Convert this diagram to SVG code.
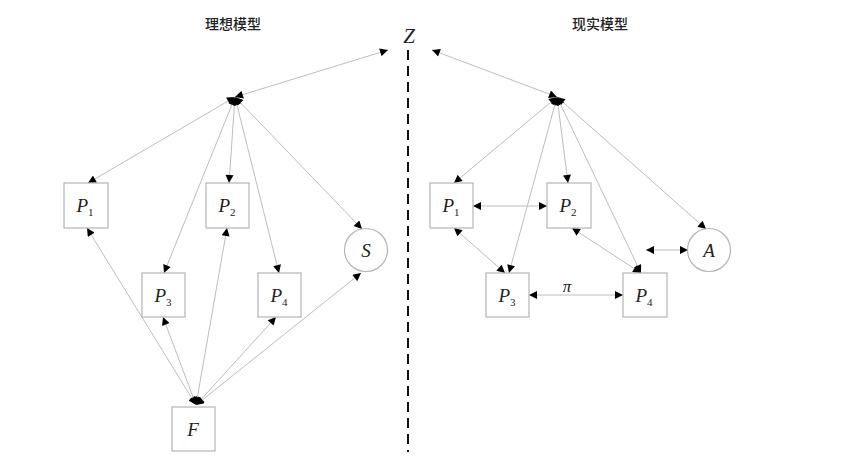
<svg xmlns="http://www.w3.org/2000/svg" width="864" height="462" viewBox="0 0 864 462">
<defs>
<marker id="ah" viewBox="0 0 10 10" refX="10" refY="5" markerWidth="9" markerHeight="8" markerUnits="userSpaceOnUse" orient="auto-start-reverse">
<path d="M0,0 L10,5 L0,10 z" fill="#000"/>
</marker>
</defs>
<style>
.box{fill:#fff;stroke:#b4b4b4;stroke-width:1.2}
.c{stroke:#bdbdbd;stroke-width:1;fill:none;marker-start:url(#ah);marker-end:url(#ah)}
.lbl{font-family:"Liberation Serif","Times New Roman",serif;font-style:italic;font-size:19px;fill:#222}
.sub{font-style:normal;font-size:11px}
.ttl{font-family:"Liberation Serif","Noto Sans CJK SC",serif;font-size:14px;fill:#222;font-weight:500}
</style>
<rect width="864" height="462" fill="#fff"/>
<text class="ttl" x="233" y="29" text-anchor="middle">理想模型</text>
<text class="ttl" x="600" y="29" text-anchor="middle">现实模型</text>
<text class="lbl" x="409" y="43" text-anchor="middle" style="font-size:21px">Z</text>
<line x1="408" y1="50" x2="408" y2="452" stroke="#111" stroke-width="2" stroke-dasharray="10,6"/>
<g id="connectors">
<line class="c" x1="235" y1="97" x2="388" y2="50"/>
<line class="c" x1="235" y1="97" x2="88" y2="183"/>
<line class="c" x1="235" y1="97" x2="229" y2="183"/>
<line class="c" x1="235" y1="97" x2="164" y2="273"/>
<line class="c" x1="235" y1="97" x2="279" y2="273"/>
<line class="c" x1="235" y1="97" x2="362" y2="229"/>
<line class="c" x1="196" y1="405" x2="87" y2="228"/>
<line class="c" x1="196" y1="405" x2="163" y2="317"/>
<line class="c" x1="196" y1="405" x2="227" y2="228"/>
<line class="c" x1="196" y1="405" x2="276" y2="317"/>
<line class="c" x1="196" y1="405" x2="361" y2="273"/>
<line class="c" x1="557" y1="97" x2="432" y2="50"/>
<line class="c" x1="557" y1="97" x2="454" y2="183"/>
<line class="c" x1="557" y1="97" x2="568" y2="183"/>
<line class="c" x1="557" y1="97" x2="706" y2="229"/>
<line class="c" x1="557" y1="97" x2="509" y2="273"/>
<line class="c" x1="557" y1="97" x2="641" y2="273"/>
<line class="c" x1="473" y1="206" x2="547" y2="206"/>
<line class="c" x1="454" y1="228" x2="505" y2="273"/>
<line class="c" x1="572" y1="228" x2="641" y2="273"/>
<line class="c" x1="529" y1="295" x2="623" y2="295"/>
<line class="c" x1="646" y1="250" x2="688" y2="250"/>
<text class="lbl" x="567" y="292" text-anchor="middle" style="font-size:17px">π</text>
</g>
<g id="L-P1"><rect class="box" x="64" y="183" width="44" height="45"/><text class="lbl" x="85" y="212" text-anchor="middle">P<tspan class="sub" dy="4">1</tspan></text></g>
<g id="L-P2"><rect class="box" x="206" y="183" width="43" height="45"/><text class="lbl" x="227" y="212" text-anchor="middle">P<tspan class="sub" dy="4">2</tspan></text></g>
<g id="L-P3"><rect class="box" x="142" y="273" width="43" height="44"/><text class="lbl" x="163" y="302" text-anchor="middle">P<tspan class="sub" dy="4">3</tspan></text></g>
<g id="L-P4"><rect class="box" x="258" y="273" width="43" height="44"/><text class="lbl" x="279" y="302" text-anchor="middle">P<tspan class="sub" dy="4">4</tspan></text></g>
<g id="L-S"><circle class="box" cx="366" cy="250" r="21.5"/><text class="lbl" x="366" y="257" text-anchor="middle">S</text></g>
<g id="L-F"><rect class="box" x="172" y="407" width="43" height="44"/><text class="lbl" x="193" y="436" text-anchor="middle">F</text></g>
<g id="R-P1"><rect class="box" x="430" y="183" width="43" height="45"/><text class="lbl" x="451" y="212" text-anchor="middle">P<tspan class="sub" dy="4">1</tspan></text></g>
<g id="R-P2"><rect class="box" x="547" y="183" width="44" height="45"/><text class="lbl" x="568" y="212" text-anchor="middle">P<tspan class="sub" dy="4">2</tspan></text></g>
<g id="R-P3"><rect class="box" x="486" y="273" width="43" height="44"/><text class="lbl" x="507" y="302" text-anchor="middle">P<tspan class="sub" dy="4">3</tspan></text></g>
<g id="R-P4"><rect class="box" x="623" y="273" width="44" height="44"/><text class="lbl" x="644" y="302" text-anchor="middle">P<tspan class="sub" dy="4">4</tspan></text></g>
<g id="R-A"><circle class="box" cx="709" cy="250" r="21.5"/><text class="lbl" x="709" y="257" text-anchor="middle">A</text></g>
</svg>
